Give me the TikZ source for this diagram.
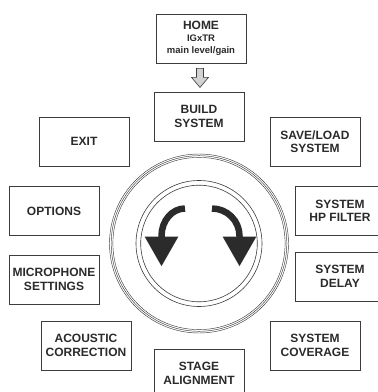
\documentclass[tikz,border=0pt]{standalone}
\usepackage{fontspec}
\setmainfont{Liberation Sans}
\usepackage{tikz}
\usetikzlibrary{arrows.meta,positioning,calc}

\definecolor{boxline}{HTML}{3C3C3C}
\definecolor{boxtext}{HTML}{2A2A2A}
\definecolor{knobarrow}{HTML}{2B2B2B}

\tikzset{
	menu/.style={draw=boxline, line width=0.8pt, minimum width=90pt, minimum height=49pt, inner sep=0pt, align=center, text=boxtext, font=\fontsize{12}{13.5}\selectfont\bfseries},
	ring/.style={draw=boxline, line width=0.45pt},
	turn/.style={draw=knobarrow, line width=6.5pt, -{Triangle[length=30pt,width=32pt]}},
}

\begin{document}
\begin{tikzpicture}[x=1pt,y=-1pt]
		\useasboundingbox (0,0) rectangle (378,392);

		% top of the menu
		\node[menu] (home) at (201,38.5) {HOME\\[-1pt]{\fontsize{9.5}{12}\selectfont IGxTR}\\[-1.5pt]{\fontsize{9.5}{12}\selectfont main level/gain}};
		\node[menu] (build) at (199,116.5) {BUILD\\SYSTEM};
		\draw[draw=boxline, fill=gray!35, line width=0.6pt] ($(home.south)+(-4.5,5)$) -- ++(7,0) -- ++(0,9) -- ++(5,0) -- ++(-8.5,10) -- ++(-8.5,-10) -- ++(5,0) -- cycle;

		% left column
		\node[menu] (exit) at (84,141.5) {EXIT};
		\node[menu] (options) at (54,211) {OPTIONS};
		\node[menu] (micro) at (54,279.5) {MICROPHONE\\SETTINGS};
		\node[menu] (acoustic) at (86,345.5) {ACOUSTIC\\CORRECTION};

		% right column
		\node[menu] (saveload) at (315,141.5) {SAVE/LOAD\\SYSTEM};
		\node[menu] (hpfilter) at (340,211) {SYSTEM\\HP FILTER};
		\node[menu] (delay) at (340,276.5) {SYSTEM\\DELAY};
		\node[menu] (coverage) at (315,345.5) {SYSTEM\\COVERAGE};

		\node[menu] (stage) at (199,373.5) {STAGE\\ALIGNMENT};

		% the knob
		\coordinate (knob) at (199,243.5);
		\foreach \r in {89.5,87.8,86.1}
			\draw[ring] (knob) circle[radius=\r];
		\foreach \r in {63,58.3}
			\draw[ring, line width=0.6pt] (knob) circle[radius=\r];

		\draw[turn] (185,208.5) arc[start angle=270, end angle=180, x radius=23.5, y radius=27.5] -- ++(0,30.5);
		\draw[turn] (212,208.5) arc[start angle=270, end angle=360, x radius=27.5, y radius=27.5] -- ++(0,30.5);
	\end{tikzpicture}
\end{document}
